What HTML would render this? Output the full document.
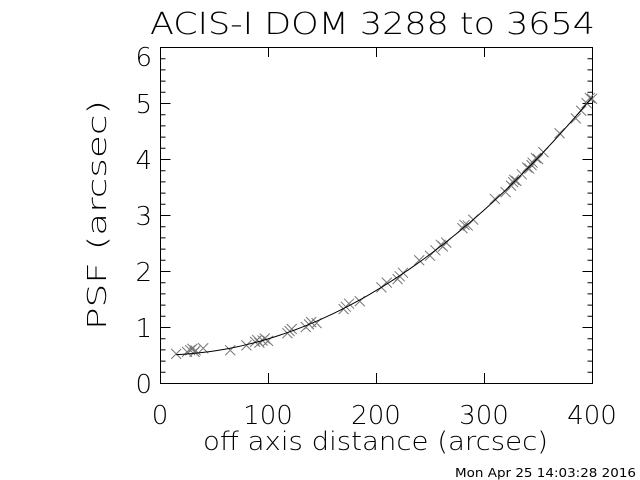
<!DOCTYPE html>
<html><head><meta charset="utf-8"><style>
body{margin:0;background:#fff;}
svg{display:block;font-family:"DejaVu Sans","Liberation Sans",sans-serif;}
</style></head><body>
<svg id="s" width="640" height="480" viewBox="0 0 640 480" xmlns="http://www.w3.org/2000/svg">
<rect width="640" height="480" fill="#fff"/>
<text x="150" y="34" font-size="30" textLength="445" lengthAdjust="spacingAndGlyphs" font-weight="200" fill="#000">ACIS-I DOM 3288 to 3654</text>
<rect x="160.5" y="47.5" width="432" height="336" fill="none" stroke="#000" stroke-width="1"/>
<g id="ticks" stroke="#000" stroke-width="1"></g>
<g font-size="26" fill="#000" font-weight="200">
<text x="160" y="424" text-anchor="middle">0</text>
<text x="268" y="424" text-anchor="middle">100</text>
<text x="376" y="424" text-anchor="middle">200</text>
<text x="484" y="424" text-anchor="middle">300</text>
<text x="592" y="424" text-anchor="middle">400</text>
<text x="152" y="393" text-anchor="end">0</text>
<text x="152" y="337" text-anchor="end">1</text>
<text x="152" y="281" text-anchor="end">2</text>
<text x="152" y="225" text-anchor="end">3</text>
<text x="152" y="169" text-anchor="end">4</text>
<text x="152" y="113" text-anchor="end">5</text>
<text x="152" y="66" text-anchor="end">6</text>
<text x="203" y="450" textLength="345" lengthAdjust="spacingAndGlyphs">off axis distance (arcsec)</text>
<text transform="translate(106,330) rotate(-90)" textLength="230" lengthAdjust="spacingAndGlyphs">PSF (arcsec)</text>
</g>
<text x="455" y="477" font-size="12" textLength="181" lengthAdjust="spacingAndGlyphs" fill="#000">Mon Apr 25 14:03:28 2016</text>
<g id="pts" stroke="#777" stroke-width="1" fill="none"></g>
<polyline id="cv" fill="none" stroke="#000" stroke-width="1"/>
</svg>
<script>
var ns="http://www.w3.org/2000/svg";
function X(v){return 160+v*1.08;} function Y(v){return 383-v*56;}
function f(x){return 0.5+2.875e-5*x*x;}
var t=document.getElementById('ticks'),d="";
for(var i=0;i<=30;i++){var y=Y(i*0.2)+0.5;var L=(i%5==0)?10:5;d+="M160.5 "+y+"h"+L+"M592.5 "+y+"h-"+L;}
for(var i=0;i<=4;i++){var x=X(i*100)+0.5;d+="M"+x+" 383v-10M"+x+" 47v10";}
var p=document.createElementNS(ns,'path');p.setAttribute('d',d);t.appendChild(p);
var pts=[15,25,28,30,32,33,40,65,80,88,90,92,95,97,100,118,120,122,135,138,140,145,170,172,175,185,205,210,220,222,225,240,250,255,260,262,265,280,282,285,290,310,320,325,327,328,330,335,340,342,344,345,348,350,355,370,385,390,395,398,400];
var dd="";
pts.forEach(function(x,k){var y=f(x)+((k*37)%7-3)*0.012+(x<60?0.05:0);var cx=X(x),cy=Y(y);dd+="M"+(cx-5)+" "+(cy-5)+"l10 10M"+(cx-5)+" "+(cy+5)+"l10 -10";});
var q=document.createElementNS(ns,'path');q.setAttribute('d',dd);document.getElementById('pts').appendChild(q);
var c="";for(var x=15;x<=400;x+=5){c+=X(x)+","+Y(f(x))+" ";}
document.getElementById('cv').setAttribute('points',c);
</script>
</body></html>
